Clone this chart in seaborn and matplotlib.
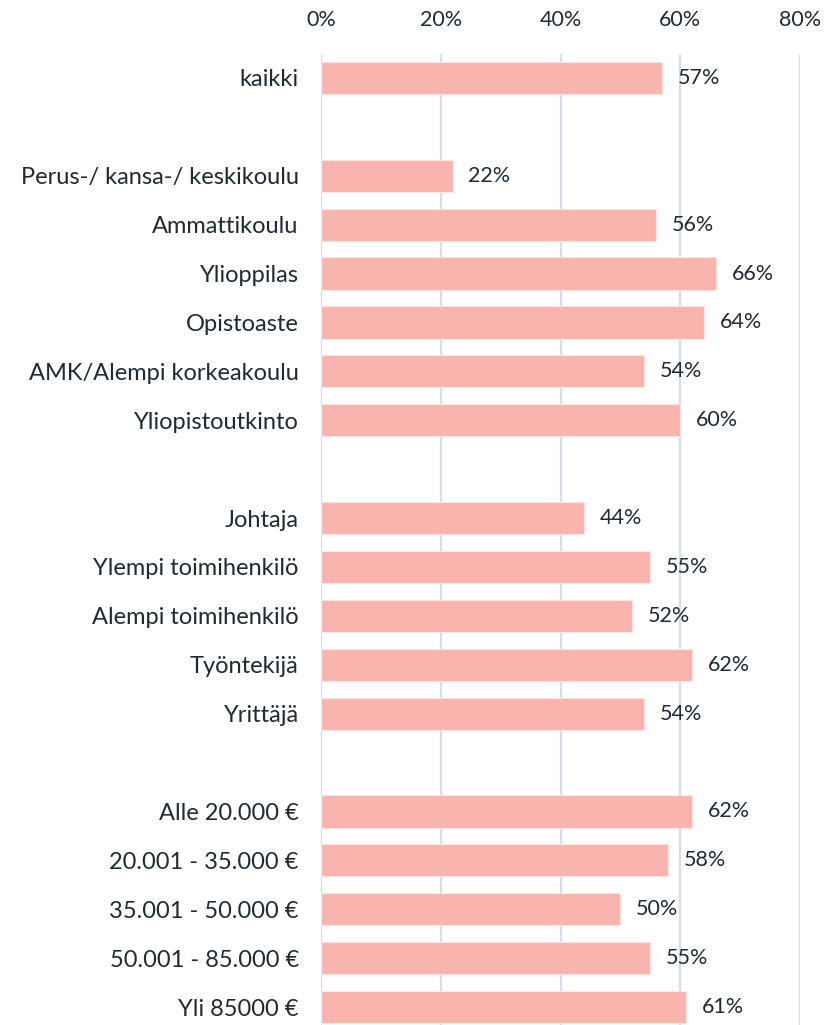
import matplotlib
matplotlib.use("Agg")
import matplotlib.pyplot as plt
import seaborn as sns
import pandas as pd

# Share of respondents per group (%)
overall = ["kaikki"]
overall_vals = [57]

education = ["Perus-/ kansa-/ keskikoulu", "Ammattikoulu", "Ylioppilas",
             "Opistoaste", "AMK/Alempi korkeakoulu", "Yliopistoutkinto"]
education_vals = [22, 56, 66, 64, 54, 60]

occupation = ["Johtaja", "Ylempi toimihenkilö", "Alempi toimihenkilö",
              "Työntekijä", "Yrittäjä"]
occupation_vals = [44, 55, 52, 62, 54]

income = ["Alle 20.000 €", "20.001 - 35.000 €", "35.001 - 50.000 €",
          "50.001 - 85.000 €", "Yli 85000 €"]
income_vals = [62, 58, 50, 55, 61]

xticks = [0, 20, 40, 60, 80]

groups = [(overall, overall_vals), (education, education_vals),
          (occupation, occupation_vals), (income, income_vals)]

labels, values, order = [], [], []
for i, (names, vals) in enumerate(groups):
    if i > 0:
        order.append(f"_gap{i}")
    labels += names
    values += vals
    order += names

df = pd.DataFrame({"group": labels, "share": values})

sns.set_theme(style="white")
plt.rcParams["font.family"] = ["Lato", "DejaVu Sans"]

text_color = "#1f2a33"
bar_color = "#fab4ae"
grid_color = "#d3dee7"

fig = plt.figure(figsize=(8.26, 10.25), dpi=100)
ax = fig.add_axes([321 / 826, 0.0, (800 - 321) / 826, 1 - 53.5 / 1025])

sns.barplot(data=df, x="share", y="group", order=order, color=bar_color,
            saturation=1, width=0.66, edgecolor="#ffe6e2", linewidth=0.8,
            ax=ax, zorder=3)

ax.set_xlim(0, 80)
n = len(order)
ax.set_ylim(-0.5 + (1025 - 53.5) / 48.9, -0.5)

ax.set_xticks(xticks)
ax.set_xticklabels([f"{t}%" for t in xticks], fontsize=15.5, color=text_color)
ax.xaxis.tick_top()
ax.tick_params(axis="x", length=0, pad=17)
ax.tick_params(axis="y", length=0, pad=16)
ax.set_yticks(range(n))
ax.set_yticklabels([o if not o.startswith("_gap") else "" for o in order],
                   fontsize=17, color=text_color)

for t in xticks:
    ax.axvline(t, color=grid_color, linewidth=1.6, zorder=1)

for c in ax.containers:
    ax.bar_label(c, labels=[f"{v:.0f}%" for v in c.datavalues], padding=11,
                 fontsize=15.5, color=text_color)

ax.set_xlabel("")
ax.set_ylabel("")
for s in ax.spines.values():
    s.set_visible(False)

fig.savefig("out.png", dpi=100, facecolor="white")
